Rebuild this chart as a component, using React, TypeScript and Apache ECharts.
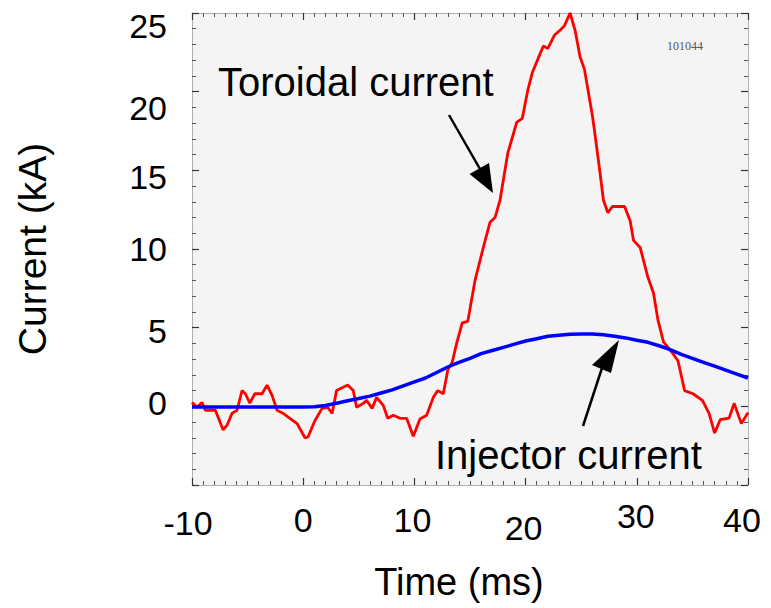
import React, { useEffect, useRef } from "react";
import * as echarts from "echarts";

// Toroidal current trace (ms, kA)
const toroidalTime = [
  -10, -9.55, -9.1, -8.8, -7.9, -7.2, -6.85, -6.4, -5.95, -5.5, -5.2, -4.8, -4.35, -3.7, -3.25, -2.8,
  -2.35, -1.8, -1.2, -0.55, 0.16, 0.43, 1.06, 1.7, 2.2, 2.6, 3.0, 4.0, 4.5, 4.8, 5.4, 5.7, 6.2, 6.6,
  7.2, 7.6, 8.1, 8.7, 9.3, 9.9, 10.5, 11.1, 11.7, 12.1, 12.6, 13.0, 13.4, 13.8, 14.3, 14.8, 15.45,
  16.2, 16.8, 17.25, 17.7, 18.4, 19.2, 19.7, 20.2, 20.6, 21.3, 21.6, 22.0, 22.6, 23.1, 23.5, 24.0,
  24.45, 24.9, 25.3, 26.0, 26.2, 26.7, 27.0, 27.4, 27.8, 28.9, 29.4, 29.7, 30.3, 31.0, 31.5, 31.9,
  32.4, 33.2, 33.7, 34.3, 35.05, 35.9, 36.5, 37.0, 37.5, 38.3, 38.75, 39.4, 40,
];
const toroidalKA = [
  0.25, -0.06, 0.25, -0.25, -0.25, -1.5, -1.2, -0.45, -0.25, 1.0, 0.8, 0.2, 0.8, 0.8, 1.35, 0.7,
  -0.25, -0.45, -0.76, -1.1, -2.0, -1.95, -0.9, -0.13, -0.06, -0.45, 1.0, 1.35, 1.0, -0.06, 0.19, 0.38, -0.13, 0.57,
  0.06, -0.76, -0.57, -0.76, -0.76, -1.9, -0.8, -0.57, 0.57, 1.0, 0.8, 2.3, 2.8, 4.0, 5.3, 5.4, 8.0,
  10.1, 11.7, 12.0, 13.1, 16.1, 18.05, 18.3, 20.1, 21.2, 22.4, 22.9, 22.75, 23.6, 23.9, 24.2, 25.0,
  23.9, 22.2, 21.4, 18.5, 17.5, 14.8, 13.1, 12.3, 12.7, 12.7, 11.8, 10.55, 10.1, 8.2, 7.2, 5.5,
  4.1, 3.4, 2.9, 1.0, 0.8, 0.38, -0.45, -1.7, -0.85, -0.75, 0.19, -1.1, -0.4,
];

// Injector current trace (ms, kA)
const injectorTime = [
  -10, -5, 0, 1, 2, 3, 4, 5, 6, 7, 8, 9, 10, 11, 12, 13, 14, 15, 16, 17, 18, 19, 20, 21, 22, 23, 24,
  25, 26, 27, 28, 29, 30, 31, 32, 33, 34, 35, 36, 37, 38, 39, 40,
];
const injectorKA = [
  -0.05, -0.05, -0.05, -0.03, 0.05, 0.2, 0.35, 0.5, 0.65, 0.85, 1.05, 1.3, 1.55, 1.8, 2.15, 2.5, 2.8,
  3.05, 3.35, 3.55, 3.75, 3.95, 4.15, 4.3, 4.45, 4.52, 4.58, 4.6, 4.6, 4.55, 4.45, 4.35, 4.2, 4.07,
  3.85, 3.6, 3.3, 3.05, 2.8, 2.55, 2.3, 2.05, 1.8,
];

const xTickLabels = ["-10", "0", "10", "20", "30", "40"];
const yTickLabels = ["0", "5", "10", "15", "20", "25"];

const FONT = "'Liberation Sans', Arial, sans-serif";

const xLabelPad: Record<string, number[]> = {
  "-10": [7, 8, 0, 0],
  "0": [4, 0, 0, 0],
  "10": [4, 4, 0, 0],
  "20": [12, 4, 0, 0],
  "30": [0, 2, 0, 0],
  "40": [4, 12, 0, 0],
};
const yLabelPad: Record<string, number[]> = {
  "0": [0, 0, 6, 0],
  "5": [6, 0, 0, 0],
  "10": [0, 0, 0, 0],
  "15": [14, 0, 0, 0],
  "20": [32, 0, 0, 0],
  "25": [25, 0, 0, 0],
};

function key(s: string) {
  return "k" + s.replace("-", "m");
}

export default function App() {
  const ref = useRef<HTMLDivElement>(null);
  useEffect(() => {
    if (!ref.current) return;
    const chart = echarts.init(ref.current, undefined, { renderer: "svg" });

    const xRich: Record<string, any> = {};
    xTickLabels.forEach((l) => {
      xRich[key(l)] = { fontSize: 34, fontFamily: FONT, color: "#000", padding: xLabelPad[l] };
    });
    const yRich: Record<string, any> = {};
    yTickLabels.forEach((l) => {
      yRich[key(l)] = { fontSize: 34, fontFamily: FONT, color: "#000", padding: yLabelPad[l] };
    });

    const tickStyle = { show: true, inside: true, length: 7, lineStyle: { color: "#333", width: 1.2 } };
    const minorStyle = { show: true, length: 4, lineStyle: { color: "#555", width: 1 } };
    const lineStyle = { show: true, onZero: false, lineStyle: { color: "#b0b0b0", width: 1 } };

    const toroidal = toroidalTime.map((t, i) => [t, toroidalKA[i]]);
    const injector = injectorTime.map((t, i) => [t, injectorKA[i]]);

    chart.setOption({
      animation: false,
      backgroundColor: "#ffffff",
      grid: {
        left: 192,
        right: 23,
        top: 13,
        bottom: 123,
        show: true,
        backgroundColor: "#f4f4f4",
        borderWidth: 0,
      },
      xAxis: [
        {
          type: "value",
          position: "bottom",
          min: -10,
          max: 40,
          interval: 10,
          axisLine: lineStyle,
          axisTick: tickStyle,
          minorTick: { ...minorStyle, splitNumber: 10 },
          splitLine: { show: false },
          axisLabel: {
            margin: 14,
            fontSize: 34,
            fontFamily: FONT,
            color: "#000",
            formatter: (v: number) => {
              const s = String(v);
              return xTickLabels.includes(s) ? `{${key(s)}|${s}}` : "";
            },
            rich: xRich,
          },
          name: "Time (ms)",
          nameLocation: "middle",
          nameGap: 78,
          nameTextStyle: { fontSize: 38, fontFamily: FONT, color: "#000", padding: [0, 22, 0, 0] },
        },
        {
          type: "value",
          position: "top",
          min: -10,
          max: 40,
          interval: 10,
          axisLine: lineStyle,
          axisTick: tickStyle,
          minorTick: { ...minorStyle, splitNumber: 10 },
          splitLine: { show: false },
          axisLabel: { show: false },
        },
      ],
      yAxis: [
        {
          type: "value",
          position: "left",
          min: -5,
          max: 25,
          interval: 5,
          axisLine: lineStyle,
          axisTick: tickStyle,
          minorTick: { ...minorStyle, splitNumber: 5 },
          splitLine: { show: false },
          axisLabel: {
            margin: 25,
            fontSize: 34,
            fontFamily: FONT,
            color: "#000",
            formatter: (v: number) => {
              const s = String(v);
              return yTickLabels.includes(s) ? `{${key(s)}|${s}}` : "";
            },
            rich: yRich,
          },
          name: "Current (kA)",
          nameLocation: "middle",
          nameGap: 140,
          nameRotate: 90,
          nameTextStyle: { fontSize: 39, fontFamily: FONT, color: "#000" },
        },
        {
          type: "value",
          position: "right",
          min: -5,
          max: 25,
          interval: 5,
          axisLine: lineStyle,
          axisTick: tickStyle,
          minorTick: { ...minorStyle, splitNumber: 5 },
          splitLine: { show: false },
          axisLabel: { show: false },
        },
      ],
      series: [
        {
          name: "Toroidal current",
          type: "line",
          xAxisIndex: 0,
          yAxisIndex: 0,
          data: toroidal,
          showSymbol: false,
          lineStyle: { color: "#ff0000", width: 2.8 },
          z: 2,
        },
        {
          name: "Injector current",
          type: "line",
          xAxisIndex: 0,
          yAxisIndex: 0,
          data: injector,
          showSymbol: false,
          lineStyle: { color: "#0000ff", width: 3.5 },
          z: 3,
        },
      ],
      graphic: [
        {
          type: "text",
          left: 218,
          top: 62,
          style: { text: "Toroidal current", font: `40px ${FONT}`, fill: "#000" },
          z: 10,
        },
        {
          type: "text",
          left: 435,
          top: 435,
          style: { text: "Injector current", font: `40px ${FONT}`, fill: "#000" },
          z: 10,
        },
        {
          type: "text",
          left: 667,
          top: 40,
          style: { text: "101044", font: "12px 'Liberation Serif', serif", fill: "#555" },
          z: 10,
        },
        {
          type: "line",
          shape: { x1: 449, y1: 115, x2: 480, y2: 169 },
          style: { stroke: "#000", lineWidth: 2.5 },
          z: 10,
        },
        {
          type: "polygon",
          shape: { points: [[493, 193], [469.5, 174], [489, 163]] },
          style: { fill: "#000" },
          z: 10,
        },
        {
          type: "line",
          shape: { x1: 583, y1: 426, x2: 602, y2: 368 },
          style: { stroke: "#000", lineWidth: 2.5 },
          z: 10,
        },
        {
          type: "polygon",
          shape: { points: [[619, 340], [592, 365], [611, 373]] },
          style: { fill: "#000" },
          z: 10,
        },
      ],
    });
    return () => chart.dispose();
  }, []);
  return (
    <div
      ref={ref}
      style={{ position: "fixed", left: 0, top: 0, width: 771, height: 608, background: "#fff" }}
    />
  );
}
